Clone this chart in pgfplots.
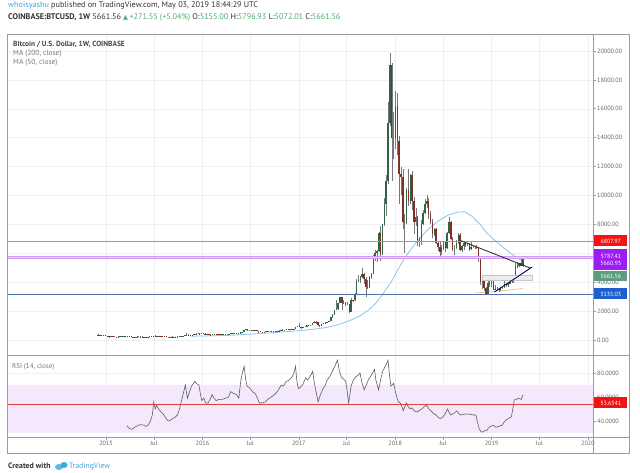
\documentclass[border=0pt]{standalone}
\usepackage{pgfplots}
\pgfplotsset{compat=1.18}
\usepackage{pgfplotstable}
\usepackage{fontspec}
\setmainfont{PT Sans}
\newfontfamily\symfont{DejaVu Sans}
\definecolor{gridcol}{HTML}{EEF0F3}
\definecolor{framecol}{HTML}{9A9CA3}
\definecolor{labgray}{HTML}{666666}
\definecolor{hdrgray}{HTML}{333333}
\definecolor{userblue}{HTML}{3BA8E0}
\definecolor{tvgreen}{HTML}{4CAF6E}
\definecolor{upcol}{HTML}{2F6444}
\definecolor{dncol}{HTML}{7E3226}
\definecolor{wickcol}{HTML}{787878}
\definecolor{salmonline}{HTML}{E4806F}
\definecolor{purpline}{HTML}{CF9BF0}
\definecolor{purpfill}{HTML}{EBD3F8}
\definecolor{supblue}{HTML}{4F74AA}
\definecolor{ma50}{HTML}{8CC4EC}
\definecolor{ma200}{HTML}{F2C27E}
\definecolor{bandcol}{HTML}{F4E8FC}
\definecolor{rsiline}{HTML}{5E5E5E}
\definecolor{rsired}{HTML}{E0403C}
\definecolor{boxred}{HTML}{F21414}
\definecolor{boxpurp}{HTML}{9A1EF2}
\definecolor{boxgreen}{HTML}{5E9C80}
\definecolor{boxblue}{HTML}{1E5FD0}
\definecolor{legdark}{HTML}{444444}
\definecolor{leglight}{HTML}{777777}
\newcommand\ticklab{\fontsize{6.2}{7}\selectfont}

\pgfplotstableread{
i o h l c
0 380 395 360 375
1 375 380 345 350
2 350 355 310 320
3 320 335 310 318
4 318 320 265 275
5 275 290 265 272
6 272 275 170 210
7 210 260 205 255
8 255 260 220 225
9 225 245 215 225
10 225 240 218 235
11 235 245 230 237
12 237 260 232 255
13 255 282 250 280
14 280 298 275 285
15 285 290 258 262
16 262 270 240 250
17 250 262 240 255
18 255 260 222 226
19 226 236 218 222
20 222 228 215 226
21 226 245 224 240
22 240 245 232 240
23 240 245 232 237
24 237 242 230 232
25 232 234 222 225
26 225 233 218 230
27 230 235 225 233
28 233 252 230 245
29 245 255 240 250
30 250 272 248 270
31 270 315 265 292
32 292 300 270 275
33 275 300 272 290
34 290 298 275 280
35 280 285 260 265
36 265 268 255 260
37 260 262 200 230
38 230 235 205 230
39 230 240 225 235
40 235 242 228 232
41 232 236 225 230
42 230 238 228 235
43 235 242 232 240
44 240 250 238 247
45 247 265 245 262
46 262 285 260 278
47 278 330 276 325
48 325 500 320 380
49 380 385 310 335
50 335 340 315 325
51 325 365 320 360
52 360 390 355 388
53 388 465 380 440
54 440 470 430 440
55 440 460 420 425
56 425 455 420 452
57 452 460 440 448
58 448 455 360 382
59 382 405 370 398
60 398 400 365 375
61 375 385 365 380
62 380 405 375 402
63 402 445 400 438
64 438 440 405 420
65 420 440 410 415
66 415 420 400 410
67 410 418 405 415
68 415 420 410 418
69 418 425 412 420
70 420 425 415 420
71 420 432 418 430
72 430 452 428 450
73 450 465 445 460
74 460 465 445 460
75 460 462 450 455
76 455 458 440 445
77 445 535 440 530
78 530 585 525 580
79 580 690 575 680
80 680 780 670 760
81 760 765 590 665
82 665 705 640 700
83 700 705 640 650
84 650 675 645 665
85 665 680 650 660
86 660 665 640 650
87 650 655 480 590
88 590 595 565 570
89 570 585 565 580
90 580 585 570 575
91 575 610 570 608
92 608 615 600 610
93 610 612 605 610
94 610 612 595 605
95 605 615 600 612
96 612 620 608 618
97 618 642 615 640
98 640 660 635 655
99 655 710 650 700
100 700 740 690 705
101 705 720 680 705
102 705 755 700 750
103 750 755 725 735
104 735 770 730 765
105 765 780 755 775
106 775 795 770 790
107 790 895 785 890
108 890 1000 885 1000
109 1000 1150 890 905
110 905 910 750 820
111 820 925 815 920
112 920 935 880 920
113 920 1015 915 1010
114 1010 1070 980 1000
115 1000 1060 990 1050
116 1050 1185 1045 1180
117 1180 1290 1175 1270
118 1270 1300 1140 1230
119 1230 1260 960 1030
120 1030 1070 890 970
121 970 1110 960 1100
122 1100 1200 1090 1180
123 1180 1215 1150 1170
124 1170 1250 1165 1240
125 1240 1340 1235 1330
126 1330 1570 1320 1560
127 1560 1780 1550 1730
128 1730 2080 1720 2050
129 2050 2750 2050 2150
130 2150 2560 2100 2550
131 2550 2980 2540 2950
132 2950 2990 2100 2580
133 2580 2780 2520 2550
134 2550 2600 2350 2500
135 2500 2650 2450 2500
136 2500 2520 1840 1950
137 1950 2900 1930 2760
138 2760 2790 2600 2750
139 2750 3280 2680 3200
140 3200 4200 3180 4050
141 4050 4480 3990 4150
142 4150 4400 3950 4350
143 4350 4980 4300 4600
144 4600 4620 3900 4200
145 4200 4350 2970 3700
146 3700 4120 3500 3650
147 3650 4400 3620 4350
148 4350 4650 4250 4600
149 4600 5850 4560 5650
150 5650 6200 5500 6000
151 6000 6250 5400 6150
152 6150 7500 6100 7400
153 7400 7890 5500 5950
154 5950 8050 5900 8000
155 8000 9800 7900 9400
156 9400 11400 8600 11000
157 11000 16500 10800 15000
158 15000 19891 14800 19000
159 19000 19200 11000 14000
160 14000 15800 12500 14000
161 14000 17250 13200 16200
162 16200 17100 12800 13800
163 13800 14100 9400 11500
164 11500 12000 10000 11300
165 11300 11800 7700 8200
166 8200 8700 6000 8100
167 8100 10500 8000 10400
168 10400 11800 9300 9600
169 9600 11500 9400 11400
170 11400 11700 9000 9600
171 9600 9900 7350 8200
172 8200 9100 7900 8500
173 8500 8600 6500 6900
174 6900 7150 6430 7000
175 7000 8300 6600 8000
176 8000 9000 7950 8800
177 8800 9750 8700 9400
178 9400 10000 9100 9600
179 9600 9800 8400 8700
180 8700 8900 8000 8200
181 8200 8400 7050 7350
182 7350 7750 7200 7700
183 7700 7750 6650 6700
184 6700 6800 6150 6450
185 6450 6800 5780 6100
186 6100 6550 5850 6350
187 6350 6800 6250 6750
188 6750 6800 6100 6350
189 6350 7500 6300 7400
190 7400 8500 7350 8200
191 8200 8250 6900 7000
192 7000 7150 6150 6300
193 6300 6550 5900 6400
194 6400 6900 6300 6700
195 6700 7400 6650 7300
196 7300 7400 6150 6200
197 6200 6550 6100 6500
198 6500 6850 6250 6700
199 6700 6750 6450 6600
200 6600 6700 6500 6600
201 6600 6700 6180 6300
202 6300 6800 6250 6450
203 6450 6530 6350 6450
204 6450 6500 6300 6450
205 6450 6550 6300 6350
206 6350 6400 5400 5600
207 5600 5650 3800 4000
208 4000 4400 3500 4100
209 4100 4250 3400 3600
210 3600 3650 3120 3200
211 3200 4200 3180 3950
212 3950 4250 3650 3850
213 3850 4100 3650 4050
214 4050 4100 3450 3500
215 3500 3800 3450 3550
216 3550 3650 3450 3550
217 3550 3600 3350 3450
218 3450 3700 3370 3650
219 3650 3700 3550 3650
220 3650 4200 3620 3850
221 3850 3900 3700 3800
222 3800 3950 3700 3900
223 3900 4000 3850 4000
224 4000 4100 3950 4000
225 4000 4150 3950 4100
226 4100 5300 4080 5050
227 5050 5400 4950 5100
228 5100 5350 5050 5300
229 5300 5650 5100 5155
230 5155 5796.93 5072.01 5661.56
}\pricedata

\pgfplotstableread{
t r
2015.217 36
2015.240 34
2015.269 33
2015.300 35
2015.354 37
2015.390 36.5
2015.418 35.5
2015.440 37
2015.461 40
2015.480 45
2015.495 56
2015.510 50
2015.525 53
2015.545 50
2015.567 48
2015.600 45
2015.623 42
2015.645 40
2015.665 40.5
2015.690 42
2015.716 43
2015.740 45
2015.759 49
2015.780 56
2015.802 63
2015.823 70
2015.844 59
2015.865 64
2015.887 69
2015.905 71
2015.921 73
2015.940 71
2015.964 70
2015.980 62
2015.994 57
2016.015 59
2016.035 55
2016.058 55
2016.080 58
2016.100 62
2016.120 59
2016.143 57
2016.170 58
2016.207 58
2016.240 59
2016.271 60
2016.292 64.5
2016.320 63
2016.356 62
2016.377 59
2016.399 74
2016.415 80
2016.433 85.6
2016.448 75
2016.463 69
2016.485 68
2016.505 66
2016.525 64
2016.548 63
2016.570 59
2016.591 55
2016.620 55
2016.655 56
2016.675 58
2016.697 59
2016.730 61
2016.761 63
2016.790 66
2016.817 70
2016.840 69
2016.868 73
2016.900 74
2016.932 77
2016.950 80
2016.966 85.6
2016.980 73
2016.996 67
2017.015 68
2017.038 70
2017.055 73
2017.072 76
2017.090 74
2017.115 77
2017.130 79
2017.145 81.4
2017.160 72
2017.175 66
2017.200 56
2017.225 62
2017.252 67
2017.275 70
2017.294 74
2017.320 77
2017.345 81
2017.375 86
2017.401 90.7
2017.420 82
2017.443 76
2017.465 75
2017.486 73
2017.500 66
2017.516 55
2017.530 62
2017.542 69
2017.565 74
2017.593 77
2017.615 78
2017.635 80
2017.655 72
2017.678 66
2017.700 70
2017.720 74
2017.742 77
2017.765 80
2017.785 83
2017.800 74
2017.827 66
2017.850 75
2017.870 81.4
2017.900 86
2017.925 90.7
2017.940 79
2017.955 69
2017.970 70
2017.985 71.5
2018.000 65
2018.019 59
2018.035 56
2018.053 55
2018.070 52
2018.083 48.5
2018.100 52
2018.117 55
2018.135 52
2018.156 50
2018.175 51
2018.190 49
2018.210 48
2018.232 47.6
2018.255 49
2018.275 50
2018.300 52
2018.326 53
2018.350 50
2018.382 47.6
2018.400 46
2018.424 45
2018.445 43
2018.467 42
2018.490 43
2018.510 45
2018.530 48
2018.544 50
2018.560 47
2018.574 45
2018.600 46
2018.620 47
2018.638 48.5
2018.660 46
2018.680 45
2018.710 45.5
2018.744 46
2018.765 45.6
2018.787 45.6
2018.810 45
2018.838 45
2018.850 40
2018.872 33.5
2018.890 31
2018.906 30.7
2018.930 32
2018.949 32
2018.965 34
2018.979 35
2019.000 36
2019.021 36.3
2019.040 35
2019.064 35
2019.085 36
2019.107 36.3
2019.130 39
2019.149 40.6
2019.170 42
2019.205 43.4
2019.220 50
2019.235 57.5
2019.255 58
2019.277 59
2019.307 58
2019.325 61.7
}\rsidata

\pgfplotstableread{
t v
2015.88 265
2016.00 275
2016.15 300
2016.30 330
2016.45 390
2016.60 450
2016.75 520
2016.90 590
2017.00 640
2017.15 740
2017.30 880
2017.45 1150
2017.55 1400
2017.63 1650
2017.72 2050
2017.80 2550
2017.88 3250
2017.97 4150
2018.03 4900
2018.10 5700
2018.20 6600
2018.33 7600
2018.45 8250
2018.55 8650
2018.65 8850
2018.72 8870
2018.80 8550
2018.88 8000
2018.95 7400
2019.05 6800
2019.15 6250
2019.26 5700
2019.325 5450
}\madata

\pgfplotstableread{
t v
2018.83 3250
2018.95 3320
2019.05 3380
2019.15 3440
2019.25 3510
2019.325 3560
}\mbdata

\begin{document}
\begin{tikzpicture}
\useasboundingbox (0pt,0pt) rectangle (640pt,473pt);
\fill[white] (0pt,0pt) rectangle (640pt,473pt);

% ---------- price panel ----------
\begin{axis}[
  at={(8pt,118pt)}, anchor=south west,
  width=585pt, height=321pt, scale only axis,
  xmin=2013.983, xmax=2020.052, ymin=-1038, ymax=21176,
  axis line style={draw=none},
  xtick={2015,2015.496,2016,2016.497,2017,2017.496,2018,2018.496,2019,2019.496,2020},
  xticklabels={}, xtick style={draw=none},
  ytick={0,2000,4000,8000,10000,12000,14000,16000,18000,20000},
  extra y ticks={6000}, extra y tick labels={},
  scaled y ticks=false,
  ytick pos=right, yticklabel pos=right,
  ytick style={draw=framecol, line width=0.6pt},
  tick align=outside, major tick length=3pt,
  /pgf/number format/assume math mode=true,
  yticklabel={\pgfmathprintnumber[fixed,fixed zerofill,precision=2,1000 sep={}]{\tick}},
  yticklabel style={font=\ticklab, text=labgray, anchor=west, inner sep=0pt, xshift=1pt},
  grid=major, major grid style={draw=gridcol, line width=0.5pt},
  extra tick style={grid=major},
  clip mode=individual,
]
% MA lines
\addplot[ma50, line width=0.8pt, forget plot] table[x=t, y=v] \madata;
\addplot[ma200, line width=0.7pt, forget plot] table[x=t, y=v] \mbdata;
% wicks
\addplot[draw=none, mark=none, forget plot,
  error bars/.cd, y dir=plus, y explicit, error mark=none,
  error bar style={draw=wickcol, line width=0.5pt}]
  table[x expr={2014.917+\thisrow{i}*0.019165}, y=l, y error plus expr={\thisrow{h}-\thisrow{l}}] \pricedata;
% up bodies
\addplot[draw=none, mark=none, forget plot,
  restrict expr to domain={\thisrow{c}-\thisrow{o}}{0:100000},
  error bars/.cd, y dir=plus, y explicit, error mark=none,
  error bar style={draw=upcol, line width=1.45pt}]
  table[x expr={2014.917+\thisrow{i}*0.019165}, y=o, y error plus expr={\thisrow{c}-\thisrow{o}}] \pricedata;
% down bodies
\addplot[draw=none, mark=none, forget plot,
  restrict expr to domain={\thisrow{o}-\thisrow{c}}{0.001:100000},
  error bars/.cd, y dir=plus, y explicit, error mark=none,
  error bar style={draw=dncol, line width=1.45pt}]
  table[x expr={2014.917+\thisrow{i}*0.019165}, y=c, y error plus expr={\thisrow{o}-\thisrow{c}}] \pricedata;
% drawings
\addplot[fill=gray!15, draw=gray!45, line width=0.5pt, forget plot] coordinates {(2018.90,4150) (2019.42,4150) (2019.42,4500) (2018.90,4500) (2018.90,4150)};
\addplot[color=salmonline, line width=1.4pt, forget plot] coordinates {(2013.983,6807.97) (2020.052,6807.97)};
\addplot[fill=purpfill, draw=none, forget plot] coordinates {(2013.983,5660.93) (2020.052,5660.93) (2020.052,5787.41) (2013.983,5787.41) (2013.983,5660.93)};
\addplot[color=purpline, line width=0.9pt, forget plot] coordinates {(2013.983,5787.41) (2020.052,5787.41)};
\addplot[color=purpline, line width=0.9pt, forget plot] coordinates {(2013.983,5660.93) (2020.052,5660.93)};
\addplot[color=supblue, line width=1.2pt, forget plot] coordinates {(2013.983,3135.03) (2020.052,3135.03)};
\addplot[color=black!80, line width=0.9pt, forget plot] coordinates {(2018.67,6900) (2019.40,4980)};
\addplot[color=blue!40!black, line width=0.9pt, forget plot] coordinates {(2019.03,3320) (2019.42,5050)};
\end{axis}

% ---------- RSI panel ----------
\begin{axis}[
  at={(8pt,36pt)}, anchor=south west,
  width=585pt, height=82pt, scale only axis,
  xmin=2013.983, xmax=2020.052, ymin=26.667, ymax=95,
  axis line style={draw=none},
  xtick={2015,2015.496,2016,2016.497,2017,2017.496,2018,2018.496,2019,2019.496,2020},
  xticklabels={2015,Jul,2016,Jul,2017,Jul,2018,Jul,2019,Jul,2020},
  xtick pos=bottom, ytick pos=right, yticklabel pos=right,
  tick style={draw=framecol, line width=0.6pt},
  tick align=outside, major tick length=3pt,
  xticklabel style={font=\ticklab, text=labgray, anchor=north, inner sep=0pt, yshift=-1pt},
  ytick={40,60,80},
  /pgf/number format/assume math mode=true,
  yticklabel={\pgfmathprintnumber[fixed,fixed zerofill,precision=4]{\tick}},
  yticklabel style={font=\ticklab, text=labgray, anchor=west, inner sep=0pt, xshift=1pt},
  grid=major, major grid style={draw=gridcol, line width=0.5pt},
  clip mode=individual,
]
\addplot[fill=bandcol, draw=none, forget plot] coordinates {(2013.983,30) (2020.052,30) (2020.052,70) (2013.983,70) (2013.983,30)};
\addplot[color=rsiline, line width=0.6pt, forget plot] table[x=t, y=r] \rsidata;
\addplot[color=rsired, line width=1pt, forget plot] coordinates {(2013.983,53.6541) (2020.052,53.6541)};
\end{axis}

% ---------- frame ----------
\draw[framecol, line width=0.8pt] (7pt,20pt) rectangle (629pt,439pt);
\draw[framecol, line width=0.8pt] (593pt,20pt) -- (593pt,439pt);
\draw[framecol, line width=0.9pt] (7pt,118pt) -- (629pt,118pt);
\draw[framecol, line width=0.8pt] (7pt,36pt) -- (629pt,36pt);

% ---------- price labels ----------
\tikzset{pl/.style={anchor=west, inner sep=0pt, minimum width=33pt, text=white, font=\fontsize{6}{7}\selectfont, align=center}}
\node[pl, fill=boxred, minimum height=11pt] at (594pt,232pt) {6807.97};
\node[pl, fill=boxpurp, minimum height=21pt] at (594pt,213pt) {5787.41\\[0.5pt]5660.93};
\node[pl, fill=boxgreen, minimum height=10pt] at (594pt,197pt) {5661.56};
\node[pl, fill=boxblue, minimum height=11pt] at (594pt,179pt) {3135.03};
\node[pl, fill=boxred, minimum height=11pt] at (594pt,70pt) {53.6541};

% ---------- texts ----------
\node[anchor=base west, inner sep=0pt] at (8pt,465.5pt) {\fontsize{8.2}{9}\selectfont\textcolor{userblue}{whoisyashu} \textcolor{hdrgray}{published on TradingView.com, May 03, 2019 18:44:29 UTC}};
\node[anchor=base west, inner sep=0pt] at (8pt,453.5pt) {\fontsize{8.2}{9}\selectfont\color{hdrgray}\textbf{COINBASE:BTCUSD, 1W} 5661.56 {\symfont\fontsize{6.4}{7}\selectfont\textcolor{tvgreen}{▲}}\,\textcolor{tvgreen}{+271.55 (+5.04\%)} O:\textcolor{tvgreen}{5155.00} H:\textcolor{tvgreen}{5796.93} L:\textcolor{tvgreen}{5072.01} C:\textcolor{tvgreen}{5661.56}};
\node[anchor=base west, inner sep=0pt] at (13pt,426.5pt) {\fontsize{7.4}{8}\selectfont\textcolor{legdark}{\textbf{Bitcoin / U.S. Dollar, 1W, COINBASE}}};
\node[anchor=base west, inner sep=0pt] at (13pt,417pt) {\fontsize{7.4}{8}\selectfont\textcolor{leglight}{MA (200, close)}};
\node[anchor=base west, inner sep=0pt] at (13pt,408.5pt) {\fontsize{7.4}{8}\selectfont\textcolor{leglight}{MA (50, close)}};
\node[anchor=base west, inner sep=0pt] at (12pt,104.5pt) {\fontsize{7}{8}\selectfont\textcolor{leglight}{RSI (14, close)}};
% footer
\node[anchor=base west, inner sep=0pt] at (8pt,4.5pt) {\fontsize{7.8}{8}\selectfont\textcolor{hdrgray}{\textbf{Created with}}};
\fill[userblue!80] (59pt,6pt) ellipse (4pt and 3pt);
\fill[userblue] (64pt,8pt) ellipse (3.5pt and 3pt);
\node[anchor=base west, inner sep=0pt] at (69pt,4.5pt) {\fontsize{7.8}{8}\selectfont\textcolor{userblue}{TradingView}};
\end{tikzpicture}
\end{document}
